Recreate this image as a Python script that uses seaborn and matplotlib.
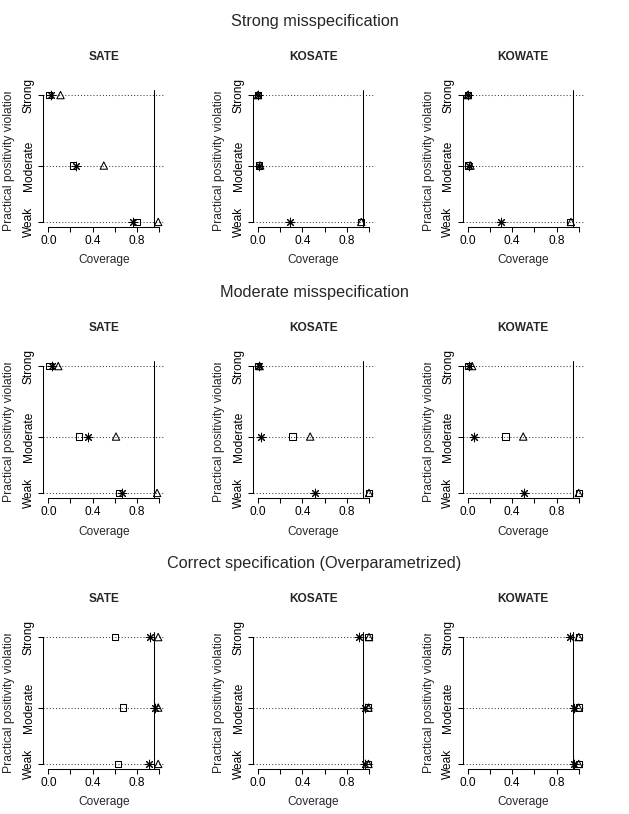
import numpy as np
import pandas as pd
import matplotlib
matplotlib.use("Agg")
import matplotlib.pyplot as plt
from matplotlib.transforms import Bbox
import seaborn as sns

sns.set_style("ticks")
plt.rcParams['font.family'] = ['Liberation Sans', 'DejaVu Sans']

scenarios = ["Strong misspecification", "Moderate misspecification",
             "Correct specification (Overparametrized)"]
estimands = ["SATE", "KOSATE", "KOWATE"]
violation = ["Strong", "Moderate", "Weak"]
violation_y = [0.10, 0.05, 0.01]   # where each level sits on the y scale

# coverage per estimand (SATE, KOSATE, KOWATE), values for Strong / Moderate / Weak
# strong misspecification
strong_ast = [[0.02, 0.25, 0.76], [0.00, 0.01, 0.29], [0.00, 0.01, 0.30]]
strong_sq = [[0.005, 0.22, 0.80], [0.00, 0.01, 0.93], [0.00, 0.00, 0.92]]
strong_tri = [[0.11, 0.50, 0.99], [0.00, 0.02, 0.93], [0.00, 0.025, 0.93]]
# moderate misspecification
mod_ast = [[0.03, 0.36, 0.66], [0.01, 0.03, 0.51], [0.01, 0.06, 0.51]]
mod_sq = [[0.01, 0.28, 0.64], [0.00, 0.31, 1.00], [0.00, 0.34, 1.00]]
mod_tri = [[0.09, 0.61, 0.98], [0.015, 0.47, 1.00], [0.04, 0.50, 1.00]]
# correct specification
corr_ast = [[0.92, 0.96, 0.91], [0.91, 0.96, 0.96], [0.92, 0.96, 0.96]]
corr_sq = [[0.60, 0.67, 0.63], [0.995, 0.99, 0.99], [1.00, 1.00, 1.00]]
corr_tri = [[0.99, 0.99, 0.99], [1.00, 0.995, 0.995], [1.00, 1.00, 1.00]]

nominal = 0.95

cov = {
    scenarios[0]: {"ast": strong_ast, "sq": strong_sq, "tri": strong_tri},
    scenarios[1]: {"ast": mod_ast, "sq": mod_sq, "tri": mod_tri},
    scenarios[2]: {"ast": corr_ast, "sq": corr_sq, "tri": corr_tri},
}

rows = []
for sc in scenarios:
    for est, vals in cov[sc].items():
        for j, ea in enumerate(estimands):
            for k, lev in enumerate(violation):
                rows.append(dict(scenario=sc, estimator=est, estimand=ea,
                                 level=lev, y=violation_y[k], coverage=vals[j][k]))
df = pd.DataFrame(rows)

marker_kw = {
    "sq": dict(marker="s", s=20, facecolor="none", edgecolor="black", linewidth=0.75),
    "tri": dict(marker="^", s=28, facecolor="none", edgecolor="black", linewidth=0.75),
    "ast": dict(marker=(8, 2, 0), s=38, linewidth=0.75),
}

W, H = 629, 814
fig = plt.figure(figsize=(W / 100, H / 100), dpi=100)

col_w, row_h = 209.7, 271.0
ax_l, ax_w = 43.3, 121.0
ax_t, ax_b = 90.0, 227.0

for r, sc in enumerate(scenarios):
    fig.text(0.5, 1 - (25.7 + row_h * r) / H, sc, ha="center", va="baseline",
             fontsize=11.7)
    for c, ea in enumerate(estimands):
        x0 = ax_l + col_w * c
        top = ax_t + row_h * r
        bot = ax_b + row_h * r
        ax = fig.add_axes([x0 / W, 1 - bot / H, ax_w / W, (bot - top) / H])
        sub = df[(df.scenario == sc) & (df.estimand == ea)]

        for yy in violation_y:
            ax.axhline(yy, color="0.25", lw=0.75, ls=(0, (1, 2)), zorder=1)
        ax.axvline(nominal, color="black", lw=0.75, zorder=1)

        for est in ["sq", "tri", "ast"]:
            d = sub[sub.estimator == est]
            sns.scatterplot(data=d, x="coverage", y="y", color="black", ax=ax,
                            legend=False, zorder=3, **marker_kw[est])

        ax.set_xlim(-0.045, 1.045)
        ax.set_ylim(0.0064, 0.1036)
        ax.set_xticks([0, 0.2, 0.4, 0.6, 0.8, 1.0])
        ax.set_xticklabels(["0.0", "", "0.4", "", "0.8", ""])
        ax.set_yticks(violation_y)
        ax.set_yticklabels(violation, rotation=90, va="center")
        ax.tick_params(axis="both", length=3.6, width=0.75, pad=2.4,
                       labelsize=8.6, color="black", labelcolor="black")
        for s in ["top", "right"]:
            ax.spines[s].set_visible(False)
        for s in ["left", "bottom"]:
            ax.spines[s].set_linewidth(0.75)
            ax.spines[s].set_color("black")
        ax.spines["left"].set_bounds(min(violation_y), max(violation_y))
        ax.spines["bottom"].set_bounds(0, 1)
        ax.set_xlabel("")
        ax.set_ylabel("")
        ax.set_facecolor("white")

        fig.text((x0 + 60.5) / W, 1 - (57 + row_h * r) / H, ea, ha="center",
                 va="center", fontsize=8.6, fontweight="bold")
        fig.text((x0 + 60.5) / W, 1 - (260.5 + row_h * r) / H, "Coverage",
                 ha="center", va="center", fontsize=8.6)
        yl = fig.text((col_w * c + 9.5) / W, 1 - (231 + row_h * r) / H,
                      "Practical positivity violation", rotation=90,
                      ha="center", va="bottom", fontsize=8.7)
        # the label runs past the top of the plot region and gets cut there
        yl.set_clip_box(Bbox([[col_w * c, 0], [col_w * c + 30, H - (91.5 + row_h * r)]]))
        yl.set_clip_on(True)

fig.savefig("out.png", dpi=100, facecolor="white")
